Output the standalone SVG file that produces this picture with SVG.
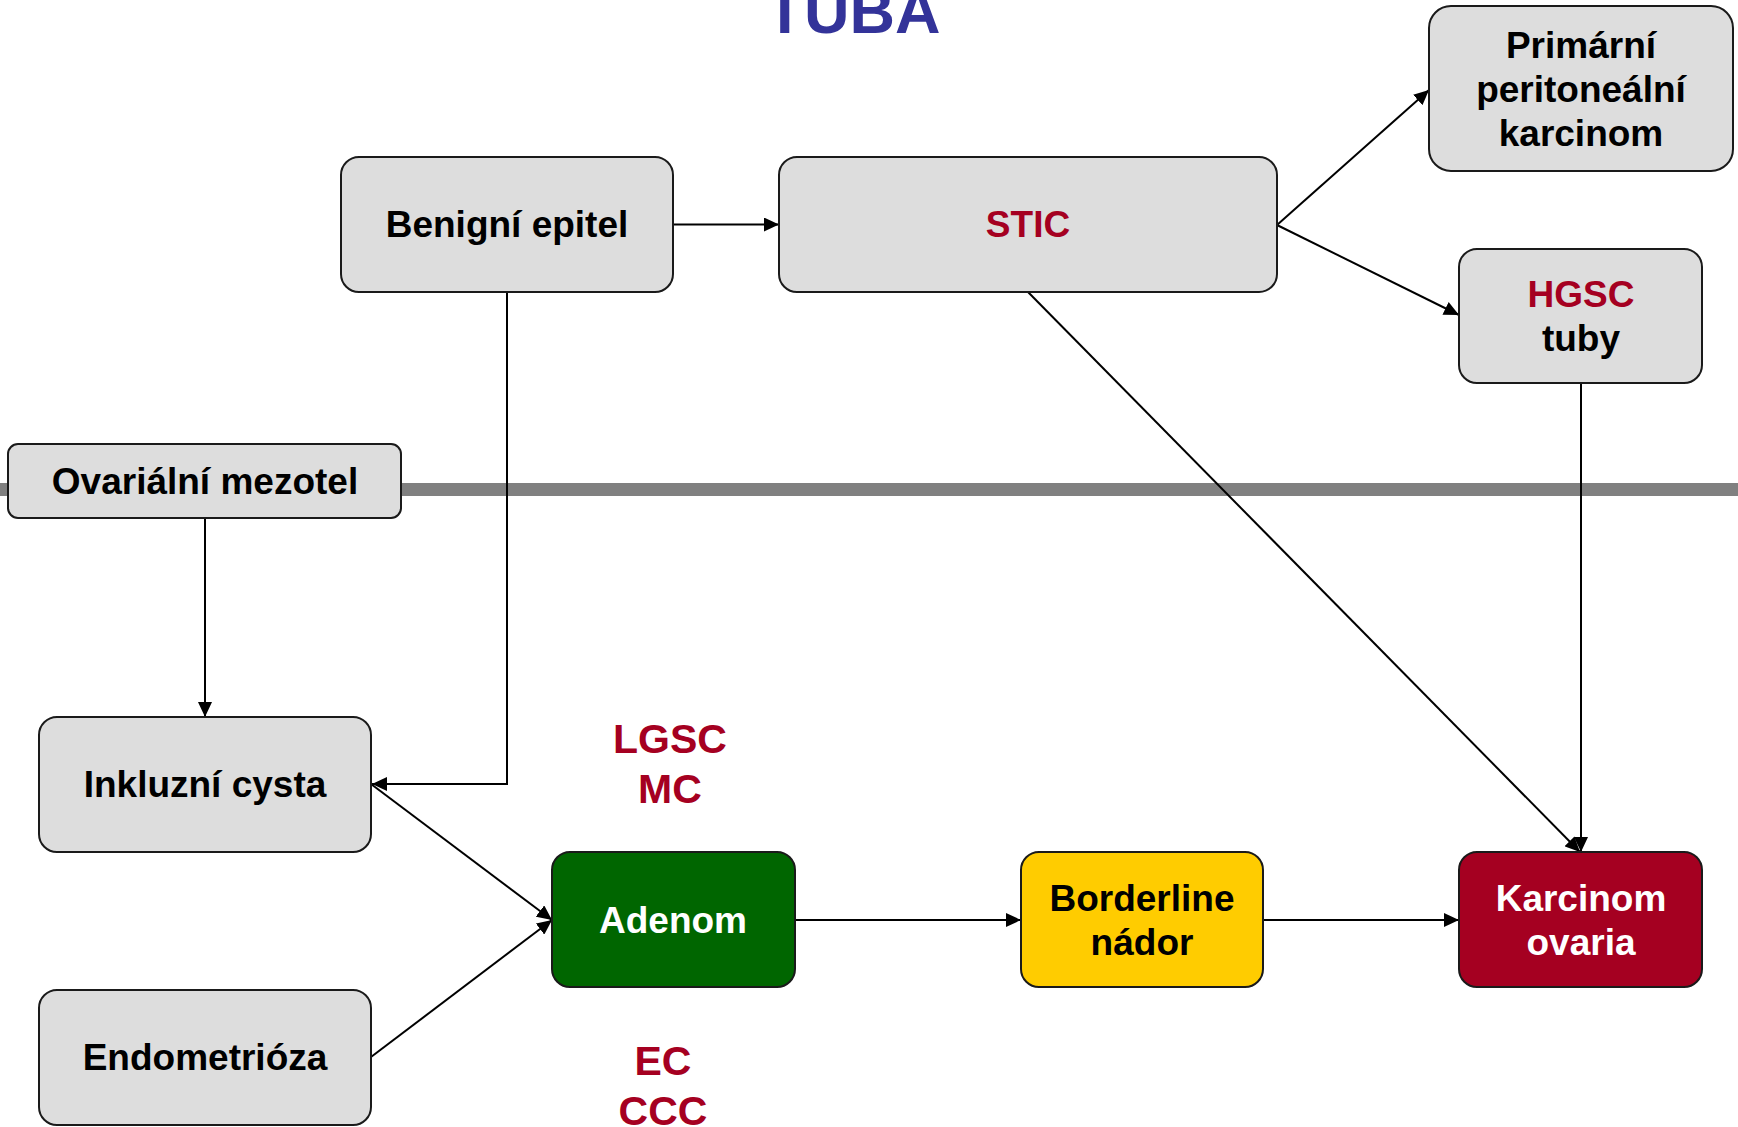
<svg xmlns="http://www.w3.org/2000/svg" width="1738" height="1127" viewBox="0 0 1738 1127">
<style>
.box{fill:#DDDDDD;stroke:#1a1a1a;stroke-width:2}
.t{font-family:"Liberation Sans",Arial,sans-serif;font-weight:bold;font-size:37px;text-anchor:middle;fill:#000}
.red{fill:#A50021}
.w{fill:#fff}
.lab{font-size:41px}
.c{fill:none;stroke:#000;stroke-width:2}
</style>
<defs>
<marker id="ah" markerUnits="userSpaceOnUse" markerWidth="16" markerHeight="14" refX="15" refY="7" orient="auto">
<path d="M0,0 L15,7 L0,14 z" fill="#000"/>
</marker>
</defs>
<rect x="0" y="483" width="1738" height="13" fill="#808080"/>
<text class="t" x="853" y="33" style="font-size:63px;fill:#333399">TUBA</text>
<g id="connectors">
<path class="c" d="M673,224.5 L779,224.5" marker-end="url(#ah)"/>
<path class="c" d="M1277,225 L1429,90" marker-end="url(#ah)"/>
<path class="c" d="M1277,225 L1459,315" marker-end="url(#ah)"/>
<path class="c" d="M1028,292 L1580,852" marker-end="url(#ah)"/>
<path class="c" d="M1581,383 L1581,852" marker-end="url(#ah)"/>
<path class="c" d="M507,292 L507,784 L372,784" marker-end="url(#ah)"/>
<path class="c" d="M205,518 L205,717" marker-end="url(#ah)"/>
<path class="c" d="M371,784 L552,920" marker-end="url(#ah)"/>
<path class="c" d="M371,1057 L552,920" marker-end="url(#ah)"/>
<path class="c" d="M795,920 L1021,920" marker-end="url(#ah)"/>
<path class="c" d="M1263,920 L1459,920" marker-end="url(#ah)"/>
</g>
<g id="benigni">
<rect class="box" x="341" y="157" width="332" height="135" rx="18"/>
<text class="t" x="507" y="237">Benigní epitel</text>
</g>
<g id="stic">
<rect class="box" x="779" y="157" width="498" height="135" rx="18"/>
<text class="t red" x="1028" y="237">STIC</text>
</g>
<g id="primarni">
<rect class="box" x="1429" y="6" width="304" height="165" rx="22"/>
<text class="t" x="1581" y="58">Primární</text>
<text class="t" x="1581" y="102">peritoneální</text>
<text class="t" x="1581" y="146">karcinom</text>
</g>
<g id="hgsc">
<rect class="box" x="1459" y="249" width="243" height="134" rx="18"/>
<text class="t red" x="1581" y="307">HGSC</text>
<text class="t" x="1581" y="351">tuby</text>
</g>
<g id="mezotel">
<rect class="box" x="8" y="444" width="393" height="74" rx="10"/>
<text class="t" x="205" y="494">Ovariální mezotel</text>
</g>
<g id="inkluzni">
<rect class="box" x="39" y="717" width="332" height="135" rx="18"/>
<text class="t" x="205" y="797">Inkluzní cysta</text>
</g>
<g id="endometrioza">
<rect class="box" x="39" y="990" width="332" height="135" rx="18"/>
<text class="t" x="205" y="1070">Endometrióza</text>
</g>
<g id="adenom">
<rect class="box" x="552" y="852" width="243" height="135" rx="18" style="fill:#006600"/>
<text class="t w" x="673" y="933">Adenom</text>
</g>
<g id="borderline">
<rect class="box" x="1021" y="852" width="242" height="135" rx="18" style="fill:#FFCC00"/>
<text class="t" x="1142" y="911">Borderline</text>
<text class="t" x="1142" y="955">nádor</text>
</g>
<g id="karcinom">
<rect class="box" x="1459" y="852" width="243" height="135" rx="18" style="fill:#A50021"/>
<text class="t w" x="1581" y="911">Karcinom</text>
<text class="t w" x="1581" y="955">ovaria</text>
</g>
<g id="labels">
<text class="t red lab" x="670" y="753">LGSC</text>
<text class="t red lab" x="670" y="803">MC</text>
<text class="t red lab" x="663" y="1075">EC</text>
<text class="t red lab" x="663" y="1125">CCC</text>
</g>
</svg>
